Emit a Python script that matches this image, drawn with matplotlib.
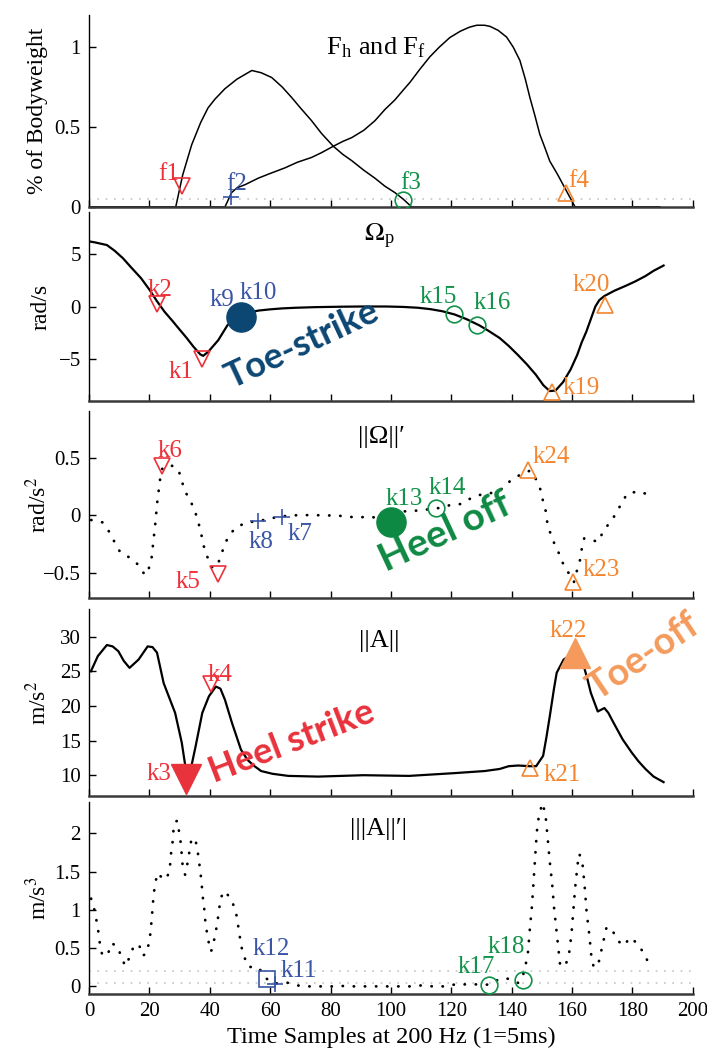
import matplotlib
matplotlib.use("Agg")
import matplotlib.pyplot as plt

plt.rcParams['font.family'] = ['Liberation Serif', 'DejaVu Serif']
plt.rcParams['mathtext.fontset'] = 'stix'

# ---------------- data ----------------
# Panel 1: heel and forefoot force (% bodyweight)
fh_x = [0, 28.7, 31, 34, 37, 39.4, 41.7, 45, 49, 53.9, 57, 60.5, 64, 67.1, 70, 73.7, 77,
        80.9, 84, 87, 91, 94.7, 98, 101.3, 104, 106.9, 189]
fh_y = [0, 0, 0.2, 0.39, 0.53, 0.62, 0.675, 0.74, 0.8, 0.854, 0.84, 0.81, 0.75, 0.685, 0.62,
        0.54, 0.46, 0.38, 0.33, 0.29, 0.23, 0.18, 0.13, 0.09, 0.05, 0, 0]
ff_x = [0, 45, 47.2, 49, 51.7, 56, 60, 64.9, 69, 73.7, 77, 80.9, 84, 87, 91, 94.7, 98, 101.3,
        104, 106.3, 109.5, 112.9, 116, 119.5, 123, 126, 128.4, 131, 132.8, 135.5, 138.3, 140.5,
        142.7, 144.5, 146, 147.7, 149.3, 151, 152.6, 155, 157, 159, 161, 189]
ff_y = [0, 0, 0.09, 0.12, 0.14, 0.18, 0.21, 0.245, 0.28, 0.31, 0.34, 0.38, 0.41, 0.434, 0.48,
        0.54, 0.61, 0.67, 0.73, 0.78, 0.86, 0.94, 1.0, 1.06, 1.10, 1.125, 1.137, 1.137, 1.13,
        1.105, 1.063, 1.0, 0.917, 0.8, 0.686, 0.57, 0.455, 0.37, 0.287, 0.21, 0.14, 0.07, 0, 0]
force_threshold = [0.05]

# Panel 2: pitch angular velocity (rad/s)
om_x = [0, 2, 5.9, 8.5, 11.2, 14, 17.2, 20, 22.5, 25, 27.7, 30, 32.2, 34.5, 36.8, 37.8, 39.5,
        41, 42.8, 44.3, 45.8, 48, 50.3, 53, 56.3, 60, 64, 68.4, 75, 83.4, 90, 98.5, 104, 109,
        113, 117, 121, 125, 129.3, 132.5, 136, 139, 142, 145, 148, 150.5, 152.6, 154.5, 157,
        159.5, 161.7, 163.2, 164.7, 166.2, 167.7, 169, 170.7, 174, 178, 181, 184.3, 187, 190.3]
om_y = [6.2, 6.1, 5.85, 5.3, 4.6, 3.7, 2.7, 1.6, 0.5, -0.5, -1.4, -2.2, -2.95, -3.8, -4.55,
        -4.7, -4.3, -3.8, -3.2, -2.5, -1.8, -1.2, -0.8, -0.55, -0.38, -0.27, -0.18, -0.12, -0.06,
        -0.02, 0, 0, -0.04, -0.12, -0.25, -0.45, -0.75, -1.2, -1.8, -2.35, -3.0, -3.75, -4.6,
        -5.5, -6.5, -7.5, -8.05, -8.0, -7.2, -6.0, -4.6, -3.4, -2.4, -1.2, 0.0, 0.6, 1.0, 1.5,
        2.0, 2.4, 2.9, 3.4, 3.9]

# Panel 3: derivative of |Omega| (rad/s^2)
dom_x = [0.7, 4.4, 6.6, 8.4, 10.3, 13.6, 16.3, 18.5, 19.6, 20.7, 21.9, 22.6, 23.5, 24.3, 27.0,
         29.6, 30.7, 31.8, 33.7, 35.1, 36.2, 37.1, 37.9, 39.0, 40.6, 42.3, 43.7, 44.8, 46.4,
         48.9, 52.4, 56.1, 59.4, 63.2, 66.8, 70.6, 74.6, 78.1, 82.0, 85.9, 89.4, 93.0, 97,
         100.5, 104.1, 108, 111.5, 115.7, 119.3, 122.9, 126.2, 129.7, 133.3, 137, 139.6, 142.5,
         146, 148.2, 149.6, 150.4, 151.3, 151.8, 152.9, 154.3, 155.9, 157.3, 159.3, 160.6,
         161.5, 162.6, 163.2, 164, 165.9, 168.6, 170.3, 172.5, 174.7, 176.4, 178.3, 181.9, 185.5]
dom_y = [-0.04, -0.06, -0.14, -0.23, -0.32, -0.37, -0.43, -0.52, -0.48, -0.37, -0.08, 0.12,
         0.31, 0.41, 0.44, 0.40, 0.30, 0.21, 0.12, 0.035, -0.06, -0.155, -0.26, -0.35, -0.45,
         -0.45, -0.35, -0.26, -0.17, -0.10, -0.06, -0.05, -0.03, -0.01, 0, 0.003, 0.003, 0, 0,
         -0.012, -0.017, -0.01, -0.03, -0.02, 0.035, 0.041, 0.05, 0.064, 0.088, 0.099, 0.146,
         0.181, 0.196, 0.234, 0.304, 0.35, 0.39, 0.31, 0.22, 0.12, 0.035, -0.067, -0.164,
         -0.257, -0.345, -0.44, -0.52, -0.58, -0.49, -0.39, -0.29, -0.2, -0.21, -0.23, -0.14,
         -0.06, 0.02, 0.11, 0.19, 0.21, 0.18]

# Panel 4: |A| (m/s^2)
acc_x = [0.6, 2.9, 5.9, 7.8, 9.7, 11.5, 13.4, 16.4, 19.4, 21, 22.5, 24.7, 28.5, 30.7, 32.2,
         33.5, 35.3, 37.5, 39.7, 42, 43.5, 45, 47.3, 50.3, 52.5, 54.8, 57, 60.8, 66, 75.9, 90.9,
         106, 121, 131, 136, 139, 142.1, 146, 148.1, 150.4, 151.5, 152.6, 154, 154.9, 157.2,
         159, 161, 162.5, 163.9, 165, 166.2, 168.5, 170.7, 172, 173.7, 176.7, 179.7, 182, 184.3,
         187, 190.3]
acc_y = [25.0, 27.2, 28.8, 28.6, 27.9, 26.5, 25.5, 26.7, 28.6, 28.5, 27.7, 23.3, 19.0, 14.7,
         10.4, 10.5, 14.2, 19.0, 21.4, 22.8, 22.5, 20.9, 17.6, 13.7, 12.2, 11.3, 10.6, 10.2, 9.9,
         9.8, 10.0, 9.9, 10.3, 10.6, 10.9, 11.3, 11.4, 11.3, 11.3, 12.8, 15.5, 18.5, 22.5, 24.8,
         26.7, 27.2, 27.4, 26.8, 25.7, 24.0, 21.9, 19.2, 19.7, 19.0, 17.6, 15.2, 13.3, 12.0,
         10.9, 9.8, 9.0]

# Panel 5: |derivative of |A|| (m/s^3)
dacc_x = [0.66, 1.77, 2.5, 3.1, 3.6, 4.4, 6.2, 7.5, 9.7, 10.6, 12.1, 13.6, 14.9, 16.6, 17.7,
          19.1, 19.9, 20.5, 20.7, 21.1, 21.3, 21.9, 22.6, 24.3, 25.7, 26.8, 27.0, 27.6, 27.8,
          28.5, 29.3, 29.8, 30.4, 30.7, 31.0, 31.8, 32.6, 33.2, 33.8, 35.1, 35.9, 36.4, 36.9,
          37.3, 37.6, 38.1, 38.4, 38.9, 39.5, 40.4, 41.2, 42.0, 42.6, 43.1, 43.6, 45.0, 47.2,
          48.6, 49.2, 49.8, 50.3, 51.3, 52.7, 56.1, 58.8, 61.6, 64.9, 68.7, 72.6, 76.5, 80.4,
          84, 88, 92, 96, 98.9, 102.4, 106.5, 110.2, 113.8, 117.5, 121.4, 125.1, 128.9, 132.5,
          136.1, 139.2, 142.2, 143.8, 144.7, 145.4, 146.0, 146.7, 147.2, 147.7, 148.2, 148.5,
          149.1, 150.2, 151.2, 151.9, 152.6, 153.4, 154.0, 154.8, 155.6, 156.0, 157.6, 158.9,
          159.8, 160.4, 161.0, 161.8, 162.4, 163.5, 164.2, 164.8, 165.7, 166.4, 167.2, 168.9,
          170.6, 171.4, 173.2, 174.7, 176.9, 179.4, 182.2, 184.0, 185.7]
dacc_y = [1.147, 1.0, 0.85, 0.706, 0.55, 0.40, 0.42, 0.565, 0.51, 0.375, 0.265, 0.40, 0.54,
          0.54, 0.40, 0.432, 0.587, 0.74, 0.887, 1.037, 1.18, 1.337, 1.48, 1.416, 1.40, 1.557,
          1.70, 1.85, 2.0, 2.15, 2.166, 2.02, 1.866, 1.725, 1.57, 1.46, 1.61, 1.756, 1.90, 1.94,
          1.787, 1.637, 1.487, 1.337, 1.187, 1.037, 0.887, 0.74, 0.596, 0.454, 0.565, 0.72,
          0.865, 1.015, 1.16, 1.248, 1.125, 0.984, 0.838, 0.688, 0.54, 0.397, 0.256, 0.247,
          0.10, 0.035, 0.057, 0.013, 0.0, 0.0, 0.0, 0.005, 0, 0, 0, 0, 0, 0, 0.013, 0, 0, 0.026,
          0.026, 0.026, 0.022, 0.10, 0.10, 0.044, 0.154, 0.30, 0.454, 0.75, 1.05, 1.358, 1.654,
          1.954, 2.1, 2.25, 2.395, 2.24, 1.94, 1.632, 1.337, 1.037, 0.74, 0.454, 0.29, 0.256,
          0.397, 0.688, 0.99, 1.284, 1.592, 1.734, 1.58, 1.284, 0.975, 0.675, 0.384, 0.243,
          0.33, 0.63, 0.772, 0.75, 0.618, 0.53, 0.64, 0.534, 0.41, 0.278]
dacc_threshold = [0.05, 0.2]

# detected key points for every panel
p1_names = ['f1', 'f2', 'f3', 'f4']
p1_x = [30.7, 47, 104, 158]
p1_y = [0.13, 0.06, 0.046, 0.09]
p2_names = ['k2', 'k1', 'k9', 'k10', 'k15', 'k16', 'k19', 'k20']
p2_x = [22.5, 37.5, 50.3, 50.3, 121, 128.6, 153.4, 171]
p2_y = [0.2, -5.0, -1.0, -1.0, -0.75, -1.8, -8.1, 0.1]
p3_names = ['k6', 'k5', 'k8', 'k7', 'k13', 'k14', 'k24', 'k23']
p3_x = [24.3, 42.6, 56.1, 63.8, 100, 114.9, 145.5, 160.4]
p3_y = [0.43, -0.51, -0.05, -0.01, -0.06, 0.064, 0.40, -0.58]
p4_names = ['k3', 'k4', 'k21', 'k22']
p4_x = [32.2, 40.5, 145.9, 161]
p4_y = [9.4, 23.2, 11.1, 27.7]
p5_names = ['k12', 'k11', 'k17', 'k18']
p5_x = [58.8, 61.6, 132.5, 143.8]
p5_y = [0.10, 0.035, 0.02, 0.08]

# gait events highlighted on top of the key points
events = ['Toe-strike', 'Heel off', 'Heel strike', 'Toe-off']
event_keys = ['k10', 'k13', 'k3', 'k22']

# ---------------- styling ----------------
RED = '#ee3039'
BLUE = '#3a55a6'
GREEN = '#12924a'
ORANGE = '#f5852e'
NAVY = '#0c4673'
EV_GREEN = '#0e8943'
EV_RED = '#e8323c'
EV_ORANGE = '#f59a5c'

# name -> (colour, marker, label dx px, label dy px, label ha)
key_style = {
    'f1': (RED, 'v', -13, 12, 'center'), 'f2': (BLUE, '+', 6, 13, 'center'),
    'f3': (GREEN, 'o', 8, 17, 'center'), 'f4': (ORANGE, '^', 13, 12, 'center'),
    'k1': (RED, 'v', -21, -13, 'center'), 'k2': (RED, 'v', 3, 14, 'center'),
    'k9': (BLUE, None, -19, 17, 'center'), 'k10': (BLUE, None, 17, 24, 'center'),
    'k15': (GREEN, 'o', -16, 17, 'center'), 'k16': (GREEN, 'o', 15, 22, 'center'),
    'k19': (ORANGE, '^', 10, 4, 'left'), 'k20': (ORANGE, '^', -14, 20, 'center'),
    'k6': (RED, 'v', 8, 15, 'center'), 'k5': (RED, 'v', -30, -8, 'center'),
    'k8': (BLUE, '+', 3, -21, 'center'), 'k7': (BLUE, '+', 18, -17, 'center'),
    'k13': (GREEN, None, 13, 23, 'center'), 'k14': (GREEN, 'o', 11, 20, 'center'),
    'k24': (ORANGE, '^', 23, 13, 'center'), 'k23': (ORANGE, '^', 28, 12, 'center'),
    'k3': (RED, None, -27, 5, 'center'), 'k4': (RED, 'v', 9, 9, 'center'),
    'k21': (ORANGE, '^', 33, -7, 'center'), 'k22': (ORANGE, None, -7, 22, 'center'),
    'k12': (BLUE, 's', 5, 30, 'center'), 'k11': (BLUE, '+', 24, 13, 'center'),
    'k17': (GREEN, 'o', -13, 18, 'center'), 'k18': (GREEN, 'o', -17, 33, 'center'),
}
# event -> (panel, marker, colour, text x, text y, rotation, fontsize)
event_style = {
    'Toe-strike': (1, 'o', NAVY, 70.6, -3.65, 25, 26),
    'Heel off': (2, 'o', EV_GREEN, 118, -0.14, 25, 28),
    'Heel strike': (3, 'v', EV_RED, 67.2, 14.75, 21, 26),
    'Toe-off': (3, '^', EV_ORANGE, 183.8, 27.1, 34, 27),
}

fig = plt.figure(figsize=(7.07, 10.54), dpi=100)
left, width = 0.126, 0.854
boxes = [(0.8036, 0.182), (0.6195, 0.1794), (0.4326, 0.1774), (0.2448, 0.1774), (0.0569, 0.1822)]
axes = [fig.add_axes([left, b, width, h]) for b, h in boxes]

for ax in axes:
    ax.set_xlim(0, 200)
    ax.set_xticks(range(0, 201, 20))
    for s in ('top', 'right'):
        ax.spines[s].set_visible(False)
    ax.spines['bottom'].set_linewidth(1.8)
    ax.spines['bottom'].set_color('#3a3a3a')
    ax.spines['left'].set_linewidth(1.0)
    ax.tick_params(direction='in', length=5, width=1, labelsize=15, pad=6)
    ax.patch.set_alpha(0)
for ax in axes[:-1]:
    ax.tick_params(labelbottom=False)

ax1, ax2, ax3, ax4, ax5 = axes
LABEL_FS = 17
TITLE_FS = 19

# panel 1
for t in force_threshold:
    ax1.axhline(t, color='#c4c4c4', lw=1.2, ls=(0, (1, 4)), zorder=1)
ax1.plot(fh_x, fh_y, color='k', lw=1.1, zorder=2)
ax1.plot(ff_x, ff_y, color='k', lw=1.1, zorder=2)
ax1.set_ylim(0, 1.2)
ax1.set_yticks([0, 0.5, 1])
ax1.set_yticklabels(['0', '0.5', '1'])
ax1.set_ylabel('% of Bodyweight', fontsize=LABEL_FS)
ax1.yaxis.set_label_coords(-0.068, 0.5)
ax1.text(0.475, 0.83, r'F$_\mathregular{h}$ and F$_\mathregular{f}$', transform=ax1.transAxes,
         ha='center', va='center', fontsize=TITLE_FS)

# panel 2
ax2.plot(om_x, om_y, color='k', lw=1.6, zorder=2)
ax2.set_ylim(-9, 9)
ax2.set_yticks([-5, 0, 5])
ax2.set_ylabel('rad/s', fontsize=LABEL_FS)
ax2.yaxis.set_label_coords(-0.062, 0.5)
ax2.text(0.48, 0.87, r'$\Omega_\mathregular{p}$', transform=ax2.transAxes,
         ha='center', va='center', fontsize=TITLE_FS)

# panel 3
ax3.plot(dom_x, dom_y, color='k', lw=2.0, ls=(0, (0.1, 3.9)), dash_capstyle='round', zorder=2)
ax3.set_ylim(-0.72, 0.91)
ax3.set_yticks([-0.5, 0, 0.5])
ax3.set_yticklabels(['\u22120.5', '0', '0.5'])
ax3.set_ylabel('rad/s$^2$', fontsize=LABEL_FS)
ax3.yaxis.set_label_coords(-0.062, 0.5)
ax3.text(0.485, 0.86, "||\u03a9||\u2032", transform=ax3.transAxes,
         ha='center', va='center', fontsize=TITLE_FS)

# panel 4
ax4.plot(acc_x, acc_y, color='k', lw=1.6, zorder=2)
ax4.set_ylim(7, 34)
ax4.set_yticks([10, 15, 20, 25, 30])
ax4.set_ylabel('m/s$^2$', fontsize=LABEL_FS)
ax4.yaxis.set_label_coords(-0.062, 0.5)
ax4.text(0.48, 0.83, '||A||', transform=ax4.transAxes, ha='center', va='center',
         fontsize=TITLE_FS)

# panel 5
for t in dacc_threshold:
    ax5.axhline(t, color='#c4c4c4', lw=1.2, ls=(0, (1, 4)), zorder=1)
ax5.plot(dacc_x, dacc_y, color='k', lw=2.0, ls=(0, (0.1, 3.9)), dash_capstyle='round', zorder=2)
ax5.set_ylim(-0.1, 2.41)
ax5.set_yticks([0, 0.5, 1, 1.5, 2])
ax5.set_yticklabels(['0', '0.5', '1', '1.5', '2'])
ax5.set_ylabel('m/s$^3$', fontsize=LABEL_FS)
ax5.yaxis.set_label_coords(-0.062, 0.5)
ax5.text(0.48, 0.86, "|||A||\u2032|", transform=ax5.transAxes, ha='center', va='center',
         fontsize=TITLE_FS)
ax5.set_xlabel('Time Samples at 200 Hz (1=5ms)', fontsize=17.5, labelpad=4)

# key points
panel_keys = [(ax1, p1_names, p1_x, p1_y), (ax2, p2_names, p2_x, p2_y),
              (ax3, p3_names, p3_x, p3_y), (ax4, p4_names, p4_x, p4_y),
              (ax5, p5_names, p5_x, p5_y)]
key_pos = {}
for ax, names, xs, ys in panel_keys:
    for name, x, y in zip(names, xs, ys):
        key_pos[name] = (x, y)
        color, marker, dx, dy, ha = key_style[name]
        if marker is not None:
            ms = 12 if marker in ('v', '^', 'o') else 11
            ax.plot([x], [y], marker=marker, ms=ms, mfc='none', mec=color, mew=1.2,
                    ls='none', zorder=4)
        ax.annotate(name, (x, y), xytext=(dx * 0.72, dy * 0.72), textcoords='offset points',
                    color=color, fontsize=18, ha=ha, va='center', zorder=3)

# gait events
for ev, key in zip(events, event_keys):
    panel, marker, color, tx, ty, rot, fs = event_style[ev]
    ax = axes[panel]
    x, y = key_pos[key]
    ax.plot([x], [y], marker=marker, ms=21, mfc=color, mec=color, ls='none', zorder=5)
    ax.text(tx, ty, ev, color=color, fontsize=fs, fontweight='bold', rotation=rot,
            rotation_mode='anchor', ha='center', va='center', family=['Lato', 'DejaVu Sans'],
            clip_on=False, zorder=6)

fig.savefig('out.png', dpi=100)
